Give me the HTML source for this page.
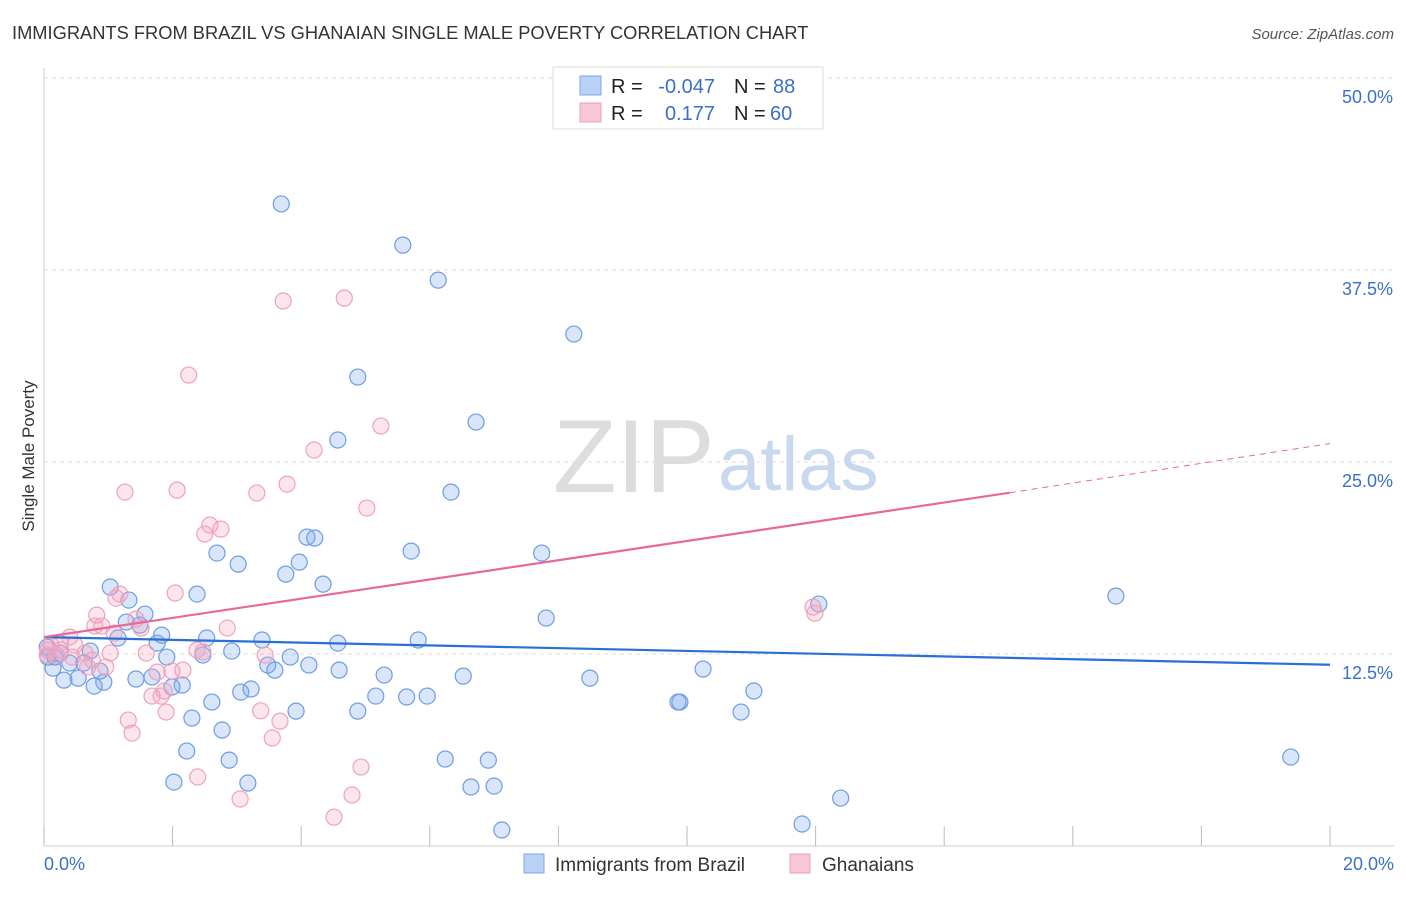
<!DOCTYPE html>
<html><head><meta charset="utf-8"><style>
body{margin:0;background:#fff;font-family:"Liberation Sans",sans-serif;}
svg text{font-family:"Liberation Sans",sans-serif;}
</style></head><body>
<svg id="chart" width="1406" height="892" xmlns="http://www.w3.org/2000/svg">
<text x="12" y="39" font-size="18.3" fill="#333">IMMIGRANTS FROM BRAZIL VS GHANAIAN SINGLE MALE POVERTY CORRELATION CHART</text>
<text x="1394" y="39" font-size="15" fill="#555" font-style="italic" text-anchor="end">Source: ZipAtlas.com</text>
<text x="34" y="456" font-size="17" fill="#333" text-anchor="middle" transform="rotate(-90 34 456)">Single Male Poverty</text>
<text x="553" y="492" font-size="104" fill="#ddd" font-family="Liberation Serif">ZIP</text>
<text x="718" y="490" font-size="76" fill="#c8d8ee">atlas</text>
<g id="grid"></g><g id="pts"></g><g id="lines"></g>
<g>
<rect x="553" y="67" width="270" height="62" fill="#fff" stroke="#ddd"/>
<rect x="580" y="76" width="21" height="19" fill="#b8d1f5" stroke="#7ea6e6"/>
<rect x="580" y="103" width="21" height="19" fill="#f9c6d6" stroke="#eda0b8"/>
<text x="611" y="93" font-size="20" fill="#222">R = </text><text x="715" y="93" font-size="20" fill="#3a70c8" text-anchor="end">-0.047</text>
<text x="734" y="93" font-size="20" fill="#222">N = </text><text x="773" y="93" font-size="20" fill="#3a70c8">88</text>
<text x="611" y="120" font-size="20" fill="#222">R = </text><text x="715" y="120" font-size="20" fill="#3a70c8" text-anchor="end">0.177</text>
<text x="734" y="120" font-size="20" fill="#222">N = </text><text x="770" y="120" font-size="20" fill="#3a70c8">60</text>
</g>
<g>
<rect x="524" y="854" width="20" height="19" fill="#b8d1f5" stroke="#7ea6e6"/>
<text x="555" y="871" font-size="19" fill="#333">Immigrants from Brazil</text>
<rect x="790" y="854" width="20" height="19" fill="#f9c6d6" stroke="#eda0b8"/>
<text x="822" y="871" font-size="19" fill="#333">Ghanaians</text>
</g>
</svg>
<script>
const xTicks=[0,2,4,6,8,10,12,14,16,18,20];
const yTicks=[12.5,25,37.5,50];
const blueX=[3.69,5.58,6.13,8.24,4.88,6.72,4.57,6.33,2.69,3.02,4.09,4.21,3.97,5.71,7.74,3.76,4.34,1.03,1.32,2.38,1.57,7.81,12.05,16.67,1.28,1.49,1.15,1.76,1.83,2.53,3.39,4.57,5.82,2.92,2.47,1.91,3.83,3.48,3.59,4.12,4.59,5.29,6.52,8.49,10.25,1.68,1.43,2.15,1.99,3.06,3.22,0.93,0.78,0.53,0.31,0.14,0.06,0.25,0.40,0.62,0.72,0.87,5.16,5.64,5.96,11.04,9.89,9.86,4.88,10.84,2.3,2.61,2.77,3.92,2.22,2.88,6.24,6.91,2.02,3.17,6.64,7.0,12.39,19.39,7.12,11.79,0.05,0.17];
const blueY=[41.8,39.12,36.84,33.33,30.53,27.6,26.43,23.04,19.07,18.35,20.11,20.05,18.48,19.2,19.07,17.7,17.05,16.86,16.01,16.4,15.1,14.84,15.75,16.27,14.58,14.38,13.54,13.21,13.73,13.54,13.41,13.21,13.41,12.69,12.43,12.3,12.3,11.78,11.45,11.78,11.45,11.13,11.06,10.93,11.52,11.0,10.87,10.48,10.35,10.02,10.22,10.67,10.41,10.93,10.8,11.58,12.3,12.56,11.91,11.91,12.69,11.39,9.76,9.7,9.76,10.09,9.37,9.37,8.78,8.72,8.33,9.37,7.55,8.78,6.18,5.59,5.66,5.59,4.16,4.1,3.84,3.9,3.12,5.79,1.04,1.43,12.95,12.3];
const pinkX=[3.72,4.67,2.25,5.24,4.2,1.26,2.07,3.31,3.78,5.02,2.58,2.75,2.5,1.18,2.04,1.12,0.82,1.43,0.79,0.9,1.09,1.51,2.85,0.40,0.25,0.48,0.11,0.06,0.19,0.64,0.75,0.44,0.96,1.59,2.38,2.47,3.44,1.99,2.16,1.76,1.87,1.68,1.82,1.9,3.37,3.67,1.31,1.37,3.55,2.39,3.05,4.93,4.79,4.51,11.96,11.99,0.26,0.68,1.03,0.05];
const pinkY=[35.48,35.67,30.66,27.34,25.78,23.04,23.17,22.98,23.56,22.0,20.89,20.63,20.31,16.4,16.47,16.14,15.03,14.77,14.32,14.32,13.86,14.19,14.19,13.6,13.21,13.08,13.08,12.76,12.43,12.56,12.1,12.3,11.65,12.56,12.76,12.63,12.43,11.39,11.45,11.32,10.09,9.76,9.76,8.72,8.8,8.13,8.2,7.35,7.03,4.49,3.06,5.14,3.32,1.88,15.56,15.16,12.76,11.65,12.56,12.43];
const blueLine=[13.6,11.8];
const pinkLine=[13.6,23.0,26.2];
const NS='http://www.w3.org/2000/svg';
const sx=v=>44+v*64.3, sy=v=>846-v*15.36;
function mk(t,a,p){const e=document.createElementNS(NS,t);for(const k in a)e.setAttribute(k,a[k]);p.appendChild(e);return e;}
const grid=document.getElementById('grid');
mk('line',{x1:44,y1:68,x2:44,y2:846,stroke:'#ccc'},grid);
mk('line',{x1:44,y1:846,x2:1394,y2:846,stroke:'#ccc'},grid);
yTicks.forEach(v=>{
 const l=mk('line',{x1:44,y1:sy(v),x2:1394,y2:sy(v),stroke:'#ddd','stroke-dasharray':'4,4'},grid);
 
 
 const t=mk('text',{x:1393,y:sy(v)+25,'font-size':18,fill:'#3a70c8','text-anchor':'end'},grid);
 t.textContent=v.toFixed(1)+'%';
 
 
});
xTicks.forEach(v=>{
 const l=mk('line',{x1:sx(v),y1:826,x2:sx(v),y2:846,stroke:'#bbb'},grid);
 
 
});
[[0,'start',44],[20,'end',1394]].forEach(([v,a,x])=>{
 const t=mk('text',{x:x,y:870,'font-size':18,fill:'#3a70c8','text-anchor':a},grid);
 t.textContent=v.toFixed(1)+'%';
 
 
});
const pts=document.getElementById('pts');
blueX.forEach((x,i)=>{
 const c=mk('circle',{cx:sx(x),cy:sy(blueY[i]),r:8,fill:'rgba(130,170,235,0.3)',stroke:'#6e9de2','stroke-width':1.2},pts);
 
 
});
pinkX.forEach((x,i)=>{
 const c=mk('circle',{cx:sx(x),cy:sy(pinkY[i]),r:8,fill:'rgba(245,160,190,0.28)',stroke:'#eea3bb','stroke-width':1.2},pts);
 
 
});
const lines=document.getElementById('lines');
const bl=mk('line',{x1:sx(0),y1:sy(blueLine[0]),x2:sx(20),y2:sy(blueLine[1]),stroke:'#2a6fd6','stroke-width':2.2},lines);


const pl=mk('line',{x1:sx(0),y1:sy(pinkLine[0]),x2:sx(15.02),y2:sy(pinkLine[1]),stroke:'#e8689a','stroke-width':2.2},lines);


const pd=mk('line',{x1:sx(15.02),y1:sy(pinkLine[1]),x2:sx(20),y2:sy(pinkLine[2]),stroke:'#e8689a','stroke-width':1,'stroke-dasharray':'6,5'},lines);


</script>
</body></html>
